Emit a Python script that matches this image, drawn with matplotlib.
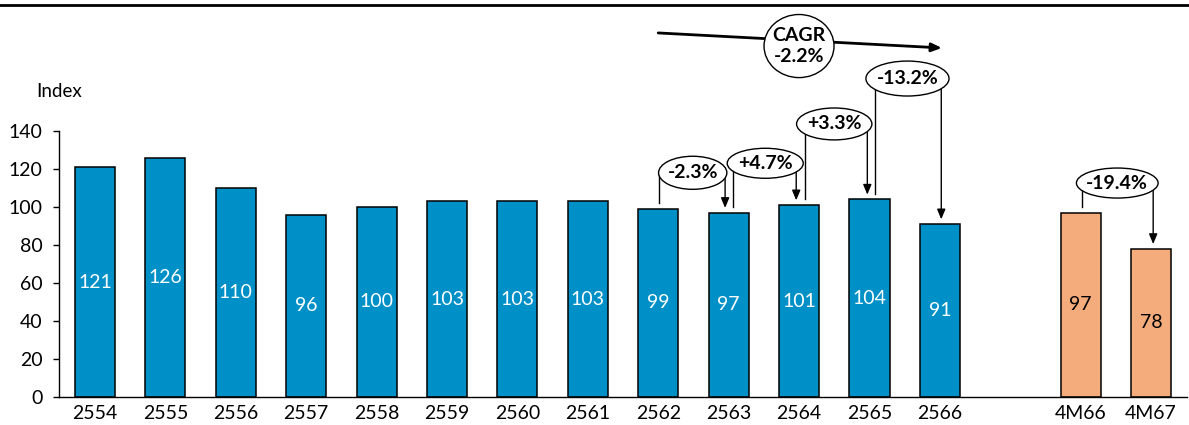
import numpy as np
import matplotlib.pyplot as plt
from matplotlib.patches import Ellipse
from matplotlib.lines import Line2D

plt.rcParams['font.family'] = ['Lato', 'DejaVu Sans']

# data
years = ['2554', '2555', '2556', '2557', '2558', '2559', '2560',
         '2561', '2562', '2563', '2564', '2565', '2566']
year_vals = [121, 126, 110, 96, 100, 103, 103, 103, 99, 97, 101, 104, 91]
ytd_labels = ['4M66', '4M67']
ytd_vals = [97, 78]

# change brackets: (from index, to index, label)
changes = [(8, 9, '-2.3%'), (9, 10, '+4.7%'), (10, 11, '+3.3%'),
           (11, 12, '-13.2%')]
ytd_change = '-19.4%'
cagr_label = 'CAGR\n-2.2%'

blue = '#0090C8'
orange = '#F5AC7C'
fs = 14

fig = plt.figure(figsize=(11.89, 4.25), dpi=100)
ax = fig.add_axes([0.0496, 0.0659, 0.9487, 0.9165])

x_years = np.arange(len(years))
x_ytd = np.array([14, 15])
w = 0.57

ax.bar(x_years, year_vals, w, color=blue, edgecolor='black', linewidth=1.1, zorder=2)
ax.bar(x_ytd, ytd_vals, w, color=orange, edgecolor='black', linewidth=1.1, zorder=2)

for x, v in zip(x_years, year_vals):
    ax.text(x, v / 2, str(v), ha='center', va='center', color='white', fontsize=fs)
for x, v in zip(x_ytd, ytd_vals):
    ax.text(x, v / 2, str(v), ha='center', va='center', color='black', fontsize=fs)

ax.set_xlim(-0.511, 15.51)
ax.set_ylim(0, 205)
ax.set_xticks(list(x_years) + list(x_ytd))
ax.set_xticklabels(years + ytd_labels, fontsize=fs)
ax.set_yticks(np.arange(0, 141, 20))
ax.tick_params(axis='y', labelsize=fs, length=4, width=1, pad=8)
ax.tick_params(axis='x', length=0, pad=6)
for s in ['top', 'right']:
    ax.spines[s].set_visible(False)
ax.spines['left'].set_bounds(0, 140)
ax.spines['left'].set_linewidth(1)
ax.spines['bottom'].set_linewidth(1)

ax.text(-0.83, 161, 'Index', ha='left', va='center', fontsize=fs - 0.5)


def bracket(x0, x1, v0, v1, level, cx, ew, eh, label):
    ax.plot([x0, x0], [v0 + 3, level], color='black', lw=1, zorder=3)
    ax.annotate('', xy=(x1, v1 + 2.5), xytext=(x1, level),
                arrowprops=dict(arrowstyle='-|>,head_length=0.6,head_width=0.25',
                                color='black', lw=1, shrinkA=0, shrinkB=0),
                zorder=3)
    ax.add_patch(Ellipse((cx, level), ew, eh, facecolor='white',
                         edgecolor='black', lw=1, zorder=4))
    ax.text(cx, level, label, ha='center', va='center', fontsize=fs,
            fontweight='bold', zorder=5)


# layout of each bracket: left x, right x, level, ellipse centre x, width, height
layout = [(8.01, 8.95, 118, 8.49, 0.97, 17.4),
          (9.06, 9.96, 123, 9.52, 1.08, 15.8),
          (10.09, 10.97, 143.7, 10.5, 1.07, 16.8),
          (11.08, 12.02, 167.6, 11.54, 1.18, 18.4)]
for (i, j, lab), (x0, x1, lev, cx, ew, eh) in zip(changes, layout):
    bracket(x0, x1, year_vals[i], year_vals[j], lev, cx, ew, eh, lab)

bracket(14.02, 15.03, ytd_vals[0], ytd_vals[1], 112.6, 14.52, 1.16, 15.8, ytd_change)

# CAGR arrow
ax.annotate('', xy=(12.03, 183.7), xytext=(8.0, 191.6),
            arrowprops=dict(arrowstyle='-|>,head_length=0.6,head_width=0.25',
                            color='black', lw=2, shrinkA=0, shrinkB=0),
            zorder=3)
ax.add_patch(Ellipse((10.0, 184.7), 0.994, 33.2, facecolor='white',
                     edgecolor='black', lw=1, zorder=4))
ax.text(10.0, 184.7, cagr_label, ha='center', va='center', fontsize=fs,
        fontweight='bold', linespacing=1.3, zorder=5)

fig.add_artist(Line2D([0, 1], [0.988, 0.988], transform=fig.transFigure,
                      color='black', lw=2))

fig.savefig('out.png', dpi=100)
